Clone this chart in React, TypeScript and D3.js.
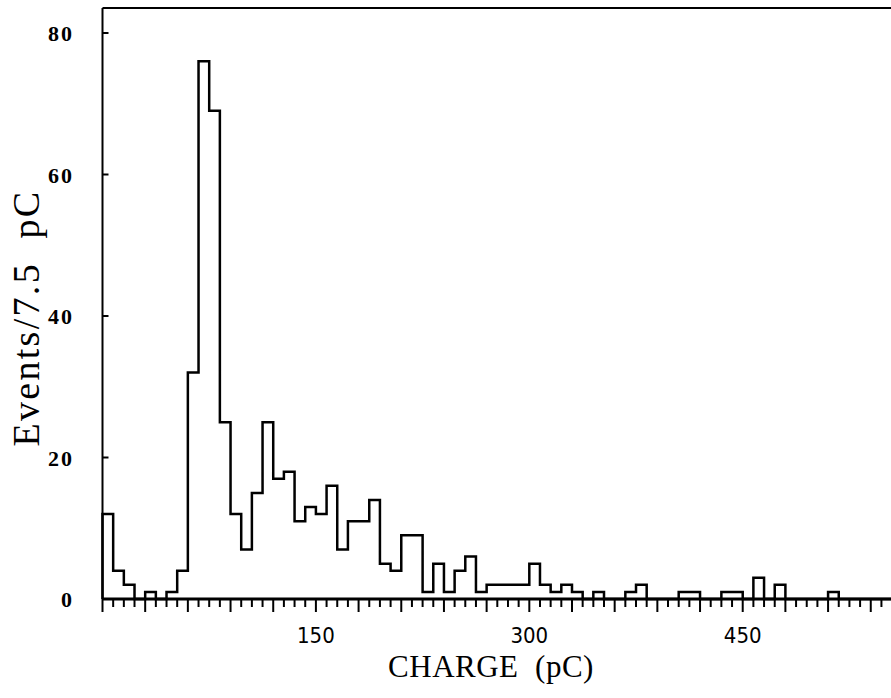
import * as d3 from "d3";

// histogram counts, one per 7.5 pC bin starting at 0 pC
const binWidth = 7.5;
const counts = [
  12, 4, 2, 0, 1, 0, 1, 4, 32, 76,
  69, 25, 12, 7, 15, 25, 17, 18, 11, 13,
  12, 16, 7, 11, 11, 14, 5, 4, 9, 9,
  1, 5, 1, 4, 6, 1, 2, 2, 2, 2,
  5, 2, 1, 2, 1, 0, 1, 0, 0, 1,
  2, 0, 0, 0, 1, 1, 0, 0, 1, 1,
  0, 3, 0, 2, 0, 0, 0, 0, 1, 0,
  0, 0, 0, 0, 0,
];
const yTicks = [0, 20, 40, 60, 80];
const xTickLabels = [150, 300, 450];

const W = 891;
const H = 698;

export default function App() {
  const x = d3.scaleLinear().domain([0, 560]).range([102.5, 102.5 + 560 * 1.4227]);
  const y = d3.scaleLinear().domain([0, 80]).range([599, 33]);

  // step outline of the histogram
  let d = `M${x(0)},${y(0)}`;
  counts.forEach((c, i) => {
    d += `V${y(c)}H${x((i + 1) * binWidth)}`;
  });

  const minor = d3.range(0, 561, binWidth);
  const serif = "'Liberation Serif', 'Times New Roman', serif";
  const narrow = "'Liberation Sans Narrow', 'DejaVu Sans Condensed', sans-serif";

  return (
    <svg
      width={W}
      height={H}
      style={{ position: "absolute", left: 0, top: 0, background: "#fff" }}
    >
      {/* frame */}
      <line x1={x(0)} x2={W + 5} y1={8} y2={8} stroke="#000" strokeWidth={2} />
      <line x1={x(0)} x2={x(0)} y1={8} y2={y(0)} stroke="#000" strokeWidth={2} />

      {/* histogram */}
      <path d={d} fill="none" stroke="#000" strokeWidth={2.5} strokeLinejoin="miter" />

      {/* x axis */}
      <line x1={x(0)} x2={W + 5} y1={y(0)} y2={y(0)} stroke="#000" strokeWidth={3} />
      {minor.map((v) => {
        const major = Math.abs(v % 30) < 1e-6;
        return (
          <line
            key={v}
            x1={x(v)}
            x2={x(v)}
            y1={y(0)}
            y2={y(0) + (major ? 13 : 8)}
            stroke="#000"
            strokeWidth={2}
          />
        );
      })}
      {xTickLabels.map((v) => (
        <text
          key={v}
          x={x(v)}
          y={643}
          textAnchor="middle"
          fontFamily={narrow}
          fontSize={22}
          fill="#000"
        >
          {v}
        </text>
      ))}

      {/* y axis */}
      {yTicks.map((v) => (
        <g key={v}>
          {v > 0 && (
            <line x1={x(0)} x2={x(0) + 6} y1={y(v)} y2={y(v)} stroke="#000" strokeWidth={2} />
          )}
          <text
            x={74}
            y={y(v) + 8}
            textAnchor="end"
            fontFamily={serif}
            fontWeight="bold"
            fontSize={22}
            letterSpacing={2}
            fill="#000"
          >
            {v}
          </text>
        </g>
      ))}

      {/* axis titles */}
      <text
        x={491}
        y={677}
        textAnchor="middle"
        fontFamily={serif}
        fontSize={31}
        letterSpacing={0.5}
        fill="#000"
        style={{ whiteSpace: "pre" }}
      >
        {"CHARGE  (pC)"}
      </text>
      <text
        transform="translate(39,318) rotate(-90)"
        textAnchor="middle"
        fontFamily={serif}
        fontSize={38}
        letterSpacing={2.3}
        fill="#000"
        style={{ whiteSpace: "pre" }}
      >
        {"Events/7.5  pC"}
      </text>
    </svg>
  );
}
